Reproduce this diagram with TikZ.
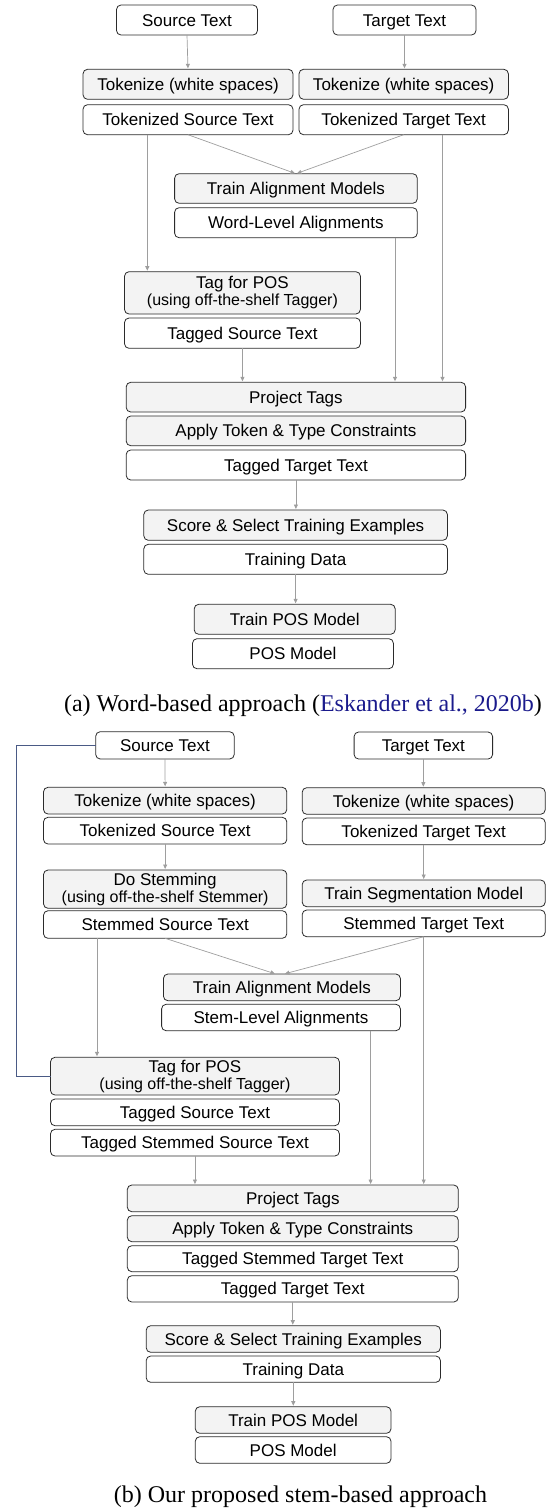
\documentclass[tikz,border=0pt]{standalone}
\usepackage{fontspec}
\setmainfont{Liberation Serif}
\newfontfamily\boxsans{Liberation Sans}
\usetikzlibrary{arrows.meta}
\definecolor{boxline}{HTML}{2B2B2B}
\definecolor{procfill}{HTML}{F3F3F3}
\definecolor{arrowgray}{HTML}{9E9E9E}
\definecolor{bluegray}{HTML}{4A5A85}
\definecolor{citeblue}{HTML}{1A1A8C}
\newcommand\mkbox[7]{\node[#1, minimum width={#4-#3}, minimum height={#6-#5}] (#2) at ({(#3+#4)/2},{(#5+#6)/2}) {#7};}
\newcommand\subline[1]{{\fontsize{16}{16.7}\selectfont #1}}
\tikzset{
  basebox/.style={draw=boxline, line width=0.8pt, rounded corners=4.5pt, inner sep=0pt, outer sep=0pt,
    font=\boxsans\fontsize{17}{16.7}\selectfont},
  proc/.style={basebox, fill=procfill, text height=12.2pt, text depth=0pt},
  data/.style={basebox, fill=white, text height=12.2pt, text depth=0pt},
  proctwo/.style={basebox, fill=procfill, align=center},
  arr/.style={draw=arrowgray, line width=0.7pt, -{Triangle[length=4.5pt,width=4pt]}, shorten >=1pt},
  blueline/.style={draw=bluegray, line width=0.8pt},
  caption/.style={font=\fontsize{24}{28}\selectfont, anchor=base, inner sep=0pt}
}
\begin{document}
\begin{tikzpicture}[x=1pt,y=-1pt]
\useasboundingbox (0,0) rectangle (547,1508);
% ---------------- (a) ----------------
\mkbox{data}{src}{116.5}{257.5}{5}{35}{Source Text}
\mkbox{data}{tgt}{333}{476}{5}{35}{Target Text}
\mkbox{proc}{tokA}{83}{293}{69.3}{99.3}{Tokenize (white spaces)}
\mkbox{proc}{tokB}{299}{508.4}{69.3}{99.3}{Tokenize (white spaces)}
\mkbox{data}{tks}{83}{293}{104.7}{134.7}{Tokenized Source Text}
\mkbox{data}{tkt}{299}{508.4}{104.7}{134.7}{Tokenized Target Text}
\mkbox{proc}{tam}{174.6}{417.3}{173.7}{203.3}{Train Alignment Models}
\mkbox{data}{wla}{174.6}{417.3}{207.7}{237.7}{Word-Level Alignments}
\mkbox{proctwo}{tag}{124.5}{360.4}{271.7}{314}{Tag for POS\\\subline{(using off-the-shelf Tagger)}}
\mkbox{data}{tss}{124.5}{360.4}{318}{348.3}{Tagged Source Text}
\mkbox{proc}{prj}{126.2}{465.6}{382.3}{412}{Project Tags}
\mkbox{proc}{atc}{126.2}{465.6}{416}{445.7}{Apply Token \& Type Constraints}
\mkbox{data}{ttt}{126.2}{465.6}{450}{480}{Tagged Target Text}
\mkbox{proc}{sst}{143.8}{447.4}{510}{540.3}{Score \& Select Training Examples}
\mkbox{data}{trd}{143.8}{447.4}{544.3}{574.3}{Training Data}
\mkbox{proc}{tpm}{194.2}{395.2}{604.3}{634.3}{Train POS Model}
\mkbox{data}{pom}{192.5}{393.4}{638.7}{668.7}{POS Model}
\node[caption] (capa) at (303,711.5) {(a) Word-based approach (\textcolor{citeblue}{Eskander et al., 2020b})};

\draw[arr] (src.south) -- (tokA.north);
\draw[arr] (tgt.south) -- (tgt.south |- tokB.north);
\draw[arr] (tks.south) -- (tam.north);
\draw[arr] (tkt.south) -- (tam.north);
\coordinate (a1) at (147.3,134.7);
\draw[arr] (a1) -- (a1 |- tag.north);
\coordinate (a2) at (442.5,134.7);
\draw[arr] (a2) -- (a2 |- prj.north);
\coordinate (a3) at (395,237.7);
\draw[arr] (a3) -- (a3 |- prj.north);
\draw[arr] (tss.south) -- (tss.south |- prj.north);
\draw[arr] (ttt.south) -- (ttt.south |- sst.north);
\draw[arr] (trd.south) -- (trd.south |- tpm.north);

% ---------------- (b) ----------------
\mkbox{data}{srcb}{95.7}{234.2}{731.7}{759}{Source Text}
\mkbox{data}{tgtb}{354.1}{492.6}{732}{759}{Target Text}
\mkbox{proc}{tokC}{43.5}{286.8}{787.3}{814}{Tokenize (white spaces)}
\mkbox{proc}{tokD}{302.2}{545.2}{787.7}{814.3}{Tokenize (white spaces)}
\mkbox{data}{tksb}{43.5}{286.8}{817.3}{844}{Tokenized Source Text}
\mkbox{data}{tktb}{302.2}{545.2}{818}{844.7}{Tokenized Target Text}
\mkbox{proctwo}{stem}{43.5}{286.8}{870}{908.3}{Do Stemming\\\subline{(using off-the-shelf Stemmer)}}
\mkbox{data}{sts}{43.5}{286.8}{910.7}{938.3}{Stemmed Source Text}
\mkbox{proc}{tsm}{302.2}{545.2}{880}{906.7}{Train Segmentation Model}
\mkbox{data}{stt}{302.2}{545.2}{910}{936.7}{Stemmed Target Text}
\mkbox{proc}{tamb}{163.4}{400.4}{974}{1000.7}{Train Alignment Models}
\mkbox{data}{sla}{161.6}{400.4}{1004.3}{1030.7}{Stem-Level Alignments}
\mkbox{proctwo}{tagb}{50.5}{339.4}{1057.3}{1095}{Tag for POS\\\subline{(using off-the-shelf Tagger)}}
\mkbox{data}{tssb}{50.5}{339.4}{1099}{1125.7}{Tagged Source Text}
\mkbox{data}{tsss}{50.5}{339.4}{1129.3}{1156}{Tagged Stemmed Source Text}
\mkbox{proc}{prjb}{127.3}{458.3}{1185}{1211.7}{Project Tags}
\mkbox{proc}{atcb}{127.3}{458.3}{1215.7}{1241.7}{Apply Token \& Type Constraints}
\mkbox{data}{tstt}{127.3}{458.3}{1245.7}{1271.7}{Tagged Stemmed Target Text}
\mkbox{data}{tttb}{127.3}{458.3}{1275.7}{1302}{Tagged Target Text}
\mkbox{proc}{sstb}{146.2}{440.4}{1325.7}{1352.3}{Score \& Select Training Examples}
\mkbox{data}{trdb}{146.2}{440.4}{1356}{1382.3}{Training Data}
\mkbox{proc}{tpmb}{195.3}{391}{1406.7}{1433.3}{Train POS Model}
\mkbox{data}{pomb}{195.3}{391}{1436.7}{1463.3}{POS Model}
\node[caption] (capb) at (300.5,1502) {(b) Our proposed stem-based approach};

\draw[arr] (srcb.south) -- (tokC.north);
\draw[arr] (tgtb.south) -- (tgtb.south |- tokD.north);
\draw[arr] (tksb.south) -- (stem.north);
\draw[arr] (tktb.south) -- (tsm.north);
\draw[arr] (sts.south) -- ([xshift=-6pt]tamb.north);
\draw[arr] (stt.south) -- ([xshift=2pt]tamb.north);
\coordinate (b1) at (97,938.3);
\draw[arr] (b1) -- (b1 |- tagb.north);
\coordinate (b2) at (370.6,1030.7);
\draw[arr] (b2) -- (b2 |- prjb.north);
\draw[arr] (stt.south) -- (stt.south |- prjb.north);
\draw[arr] (tsss.south) -- (tsss.south |- prjb.north);
\draw[arr] (tttb.south) -- (tttb.south |- sstb.north);
\draw[arr] (trdb.south) -- (trdb.south |- tpmb.north);
\coordinate (bl) at (16,0);
\draw[blueline] (srcb.west) -| (bl |- tagb.west) -- (tagb.west);
\end{tikzpicture}
\end{document}
